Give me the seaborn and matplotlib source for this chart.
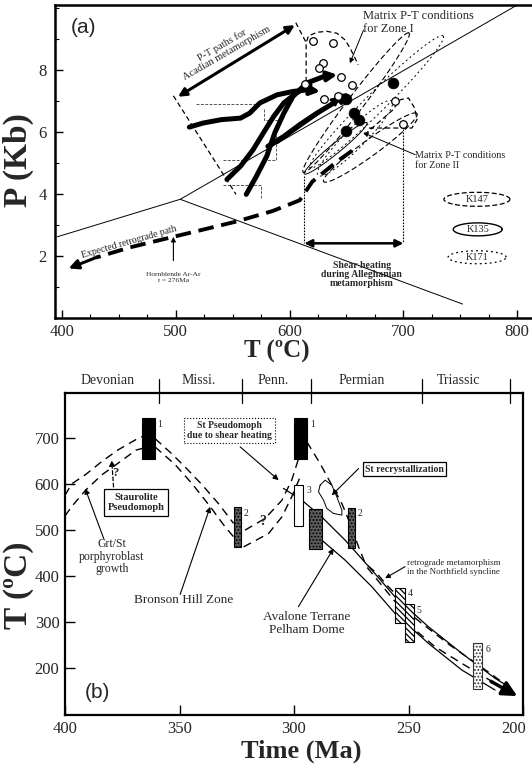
import numpy as np
import matplotlib
matplotlib.use("Agg")
import matplotlib.pyplot as plt
from matplotlib.ticker import MultipleLocator
from matplotlib.transforms import blended_transform_factory, ScaledTranslation
import seaborn as sns

# ======================= DATA : panel (a)  T (degC), P (kbar) =======================
bound_upper_T = [396, 504, 800]
bound_upper_P = [2.62, 3.83, 10.1]
bound_lower_T = [504, 752]
bound_lower_P = [3.83, 0.45]

pathA_T = [512, 524, 540, 557, 565, 574, 589, 603, 615]
pathA_P = [6.16, 6.29, 6.40, 6.45, 6.61, 6.94, 7.20, 7.31, 7.36]
pathA_tip = (627, 7.31)
pathB_T = [545, 557, 568, 577, 586, 595, 606, 618]
pathB_P = [4.47, 4.90, 5.43, 5.97, 6.50, 6.94, 7.26, 7.52]
pathC_T = [562, 571, 580, 587, 595, 603, 615, 630]
pathC_P = [3.99, 4.58, 5.22, 5.97, 6.61, 7.15, 7.58, 7.79]
pathC_tip = (642, 7.85)
pathD_T = [581, 595, 609, 624, 639]
pathD_P = [5.54, 5.86, 6.24, 6.61, 6.94]
pathD_tip = (653, 7.26)
pathE_T = [589, 610, 630]
pathE_P = [5.65, 6.20, 6.72]
pathE_tip = (645, 7.15)

retro_T = [655, 640, 620, 609, 585, 554, 525, 498, 460, 430]
retro_P = [5.40, 5.00, 4.40, 3.80, 3.45, 3.12, 2.86, 2.62, 2.28, 1.95]
retro_tip = (406, 1.60)

open_T = [621, 638, 629, 626, 614, 645, 630, 655, 693, 700, 643]
open_P = [8.95, 8.86, 8.24, 8.06, 7.56, 7.79, 7.06, 7.52, 6.99, 6.26, 7.15]
filled_T = [650, 657, 661, 650, 691]
filled_P = [7.07, 6.63, 6.38, 6.05, 7.58]

zone1_T = [614.6, 614.6, 616.6, 624, 632.8, 641.6, 648.9, 653.3, 656.2, 660.3]
zone1_P = [7.62, 8.87, 9.10, 9.22, 9.25, 9.19, 8.97, 8.70, 8.49, 8.17]
zone2_T = [666, 691, 697, 704.5, 710, 712, 707.5, 667]
zone2_P = [5.92, 6.72, 7.04, 7.10, 6.77, 6.40, 6.13, 6.13]

fan_left_T = [498, 553]
fan_left_P = [7.17, 3.99]
fan_right_T = [605.5, 615]
fan_right_P = [9.53, 8.86]
acadian_arrow_T = [502, 604.7]
acadian_arrow_P = [7.14, 9.45]

# elongated sample ellipses: (T1, P1, T2, P2)
ell_K147 = [(612, 4.70, 705, 9.20), (630, 4.40, 712, 6.60)]
ell_K135 = [(613, 4.65, 668, 6.30)]
ell_K171 = [(618, 4.85, 735, 9.10), (625, 4.60, 690, 7.00)]

stair_lines = [
    ([518, 574], [6.90, 6.90]),
    ([578, 578, 589, 589], [6.75, 6.40, 6.40, 6.10]),
    ([542, 560], [5.10, 5.10]),
    ([588, 588, 578], [5.90, 5.10, 5.10]),
    ([542, 575, 575], [4.30, 4.30, 3.85]),
]

shear_T = [613, 700]
shear_P = 2.41
shear_top_P = [4.57, 6.20]

# ======================= DATA : panel (b)  Time (Ma), T (degC) =======================
period_names = ["Devonian", "Missi.", "Penn.", "Permian", "Triassic"]
period_label_Ma = [381.4, 341.7, 309.0, 270.4, 228.2]
period_bounds_Ma = [359.0, 322.5, 292.5, 244.2, 205.6]

bar_labels = ["1", "2", "1", "3", "", "2", "4", "5", "6"]
bar_old = [366.2, 326.4, 300.0, 300.0, 293.4, 276.5, 255.9, 251.5, 222.0]
bar_young = [360.9, 323.1, 294.4, 295.9, 287.9, 273.3, 251.7, 247.7, 217.7]
bar_low = [653, 463, 653, 509, 458, 460, 298, 257, 154]
bar_high = [742, 549, 742, 598, 546, 548, 374, 338, 254]
bar_kind = ["black", "grey", "black", "white", "grey", "grey", "hatch", "hatch", "dots"]

loopU_Ma = [400, 397, 391, 384, 377, 369, 366]
loopU_T = [575, 600, 620, 648, 673, 696, 703]
loopL_Ma = [400, 397, 391, 384, 377, 369, 366]
loopL_T = [530, 551, 586, 619, 644, 673, 677]
down1U_Ma = [360.7, 354, 347.6, 340, 333, 326.4]
down1U_T = [698, 668, 636.7, 597, 557, 514]
down1L_Ma = [360.7, 352, 344.6, 337, 330.1, 326.4]
down1L_T = [680, 642, 600.6, 553, 506.5, 485]
up2U_Ma = [321.4, 312.6, 305.3, 301, 297.3]
up2U_T = [499.3, 524.8, 564, 607.8, 665.7]
up2L_Ma = [322, 311.1, 305.3, 301, 297.3]
up2L_T = [463, 492, 528, 571.6, 615]
d1_Ma = [294.4, 288.6, 283.5, 279.1, 275.5, 271.8, 268.9, 263.8, 259.5, 255.9, 247, 238.4, 226.7, 212.2, 204.9]
d1_T = [691, 644, 597, 557, 514, 463, 427, 405.4, 380, 362, 282.4, 246, 210, 166.8, 145]
d2_Ma = [268, 256, 245, 232, 219, 207]
d2_T = [418, 345, 300, 250, 205, 162]
s1_Ma = [304.6, 296.6, 287.9, 277.7, 266, 255.9, 241.3, 226.7, 212.2, 206.3]
s1_T = [589.8, 564.4, 528, 477.7, 412.5, 354.6, 289.6, 231.8, 177.7, 159.5]
s2_Ma = [287.9, 277.7, 266, 255.9, 241.3, 226.7, 212.2]
s2_T = [477.7, 434.3, 376.4, 318.6, 253.5, 195.6, 152.2]
final_tail = (214, 171)
final_tip = (202.5, 139)
recryst_Ma = [288.6, 286.4, 283.5, 281.3, 279.1, 279.1, 282.8, 285.7, 287.1, 289.3, 288.6]
recryst_T = [597, 607.8, 597, 571.6, 542.7, 532, 535.6, 546.4, 564.4, 582.4, 597]

# ======================= FIGURE =======================
sns.set_theme(style="ticks")
SERIF = ['Liberation Serif', 'DejaVu Serif']
SANS = ['Liberation Sans', 'DejaVu Sans']
plt.rcParams['font.family'] = SERIF
plt.rcParams['hatch.linewidth'] = 0.9

W, H, DPI = 532, 768, 100
fig = plt.figure(figsize=(W / DPI, H / DPI), dpi=DPI)
fig.patch.set_facecolor('white')

axA = fig.add_axes([55 / W, 1 - 318 / H, (W - 55) / W, (318 - 5) / H])
axB = fig.add_axes([65 / W, 1 - 715 / H, (523 - 65) / W, (715 - 393) / H])

axA.set_xlim(394, 813)
axA.set_ylim(0, 10.1)
axB.set_xlim(400, 200)
axB.set_ylim(98, 797)
for ax in (axA, axB):
    ax.set_facecolor('white')
    ax.set_autoscale_on(False)

K = 'black'


def line(ax, x, y, lw=0.8, ls='-', color=K, zorder=2):
    sns.lineplot(x=x, y=y, sort=False, estimator=None, ax=ax, color=color,
                 linewidth=lw, linestyle=ls, zorder=zorder, legend=False)


def arrow(ax, tail, head, lw=0.8, ms=8, ls='-', style='-|>', color=K, zorder=4):
    ax.annotate('', xy=head, xytext=tail,
                arrowprops=dict(arrowstyle=style, color=color, lw=lw, mutation_scale=ms,
                                linestyle=ls, shrinkA=0, shrinkB=0), zorder=zorder)


def ellipse(ax, p1, p2, width_px, n=160, **kw):
    d = ax.transData.transform(np.array([p1, p2], dtype=float))
    c = d.mean(axis=0)
    v = d[1] - d[0]
    half = np.hypot(*v) / 2
    u = v / (2 * half)
    nrm = np.array([-u[1], u[0]])
    t = np.linspace(0, 2 * np.pi, n)
    pts = c + np.outer(half * np.cos(t), u) + np.outer(width_px / 2 * np.sin(t), nrm)
    dd = ax.transData.inverted().transform(pts)
    ax.plot(dd[:, 0], dd[:, 1], color=K, **kw)


# ----------------------------- panel (a) -----------------------------
line(axA, bound_upper_T, bound_upper_P, lw=0.7)
line(axA, bound_lower_T, bound_lower_P, lw=0.7)

for xs, ys in stair_lines:
    line(axA, xs, ys, lw=0.7, color='#555555', ls=(0, (3, 1.5)))

line(axA, fan_left_T, fan_left_P, lw=0.9, ls=(0, (4, 2.5)))
line(axA, fan_right_T, fan_right_P, lw=0.9, ls=(0, (4, 2.5)))
line(axA, zone1_T, zone1_P, lw=0.9, ls=(0, (4, 2.5)))
line(axA, zone2_T, zone2_P, lw=0.9, ls=(0, (4, 2.5)))

for (t1, p1, t2, p2) in ell_K147:
    ellipse(axA, (t1, p1), (t2, p2), 16, lw=0.8, ls=(0, (5, 2.5)))
for (t1, p1, t2, p2) in ell_K135:
    ellipse(axA, (t1, p1), (t2, p2), 10, lw=0.7)
for (t1, p1, t2, p2) in ell_K171:
    ellipse(axA, (t1, p1), (t2, p2), 20, lw=0.7, ls=(0, (2, 3)))

# thick P-T paths
for xs, ys in [(pathA_T, pathA_P), (pathB_T, pathB_P), (pathC_T, pathC_P), (pathD_T, pathD_P)]:
    line(axA, xs, ys, lw=3.6, zorder=3)
line(axA, pathE_T, pathE_P, lw=2.0, zorder=3)
arrow(axA, (pathA_T[-1], pathA_P[-1]), pathA_tip, lw=3, ms=14)
arrow(axA, (pathC_T[-1], pathC_P[-1]), pathC_tip, lw=3, ms=14)
arrow(axA, (pathD_T[-1], pathD_P[-1]), pathD_tip, lw=3, ms=14)
arrow(axA, (pathE_T[-1], pathE_P[-1]), pathE_tip, lw=2, ms=12)

# retrograde path
line(axA, retro_T, retro_P, lw=2.8, ls=(0, (4, 2)), zorder=3)
arrow(axA, (retro_T[-1], retro_P[-1]), retro_tip, lw=2.2, ms=14)

# circles
sns.scatterplot(x=open_T, y=open_P, ax=axA, s=30, facecolor='white', edgecolor=K,
                linewidth=0.9, zorder=5, legend=False)
sns.scatterplot(x=filled_T, y=filled_P, ax=axA, s=60, color=K, edgecolor=K,
                linewidth=0.5, zorder=5, legend=False)

# Acadian double arrow
arrow(axA, (acadian_arrow_T[0], acadian_arrow_P[0]), (acadian_arrow_T[1], acadian_arrow_P[1]),
      lw=2.2, ms=12, style='<|-|>')
axA.text(543, 8.68, "P-T paths for\nAcadian metamorphism", rotation=30, ha='center', va='center',
         fontsize=7.5, rotation_mode='anchor', multialignment='center', linespacing=1.0)

# shear heating
line(axA, [shear_T[0], shear_T[0]], [shear_top_P[0], shear_P], lw=0.8, ls=(0, (1.5, 1.2)))
line(axA, [shear_T[1], shear_T[1]], [shear_top_P[1], shear_P], lw=0.8, ls=(0, (1.5, 1.2)))
arrow(axA, (shear_T[0], shear_P), (shear_T[1], shear_P), lw=1.8, ms=11, style='<|-|>')
axA.text(663.5, 1.40, "Shear heating\nduring Alleghanian\nmetamorphism", ha='center', va='center',
         fontsize=7, fontweight='bold', linespacing=1.05)

axA.text(664.7, 9.53, "Matrix P-T conditions\nfor Zone I", ha='left', va='center', fontsize=9,
         linespacing=1.05)
arrow(axA, (665, 9.29), (653, 8.22), lw=0.7, ms=7)
axA.text(710.4, 5.08, "Matrix P-T conditions\nfor Zone II", ha='left', va='center', fontsize=7.3,
         linespacing=1.1)
arrow(axA, (710.4, 5.27), (664.7, 5.98), lw=0.7, ms=7)

axA.text(459, 2.44, "Expected retrograde path", rotation=16, ha='center', va='center',
         fontsize=7, rotation_mode='anchor')
arrow(axA, (498, 1.85), (498, 2.62), lw=0.8, ms=7)
axA.text(498, 1.30, "Hornblende Ar-Ar\nt = 276Ma", ha='center', va='center', fontsize=5.3,
         linespacing=1.2)

# legend ellipses
ellipse(axA, (764.6 - 29, 3.83), (764.6 + 29, 3.83), 14, lw=0.9, ls=(0, (4, 2)))
ellipse(axA, (765.3 - 21.5, 2.86), (765.3 + 21.5, 2.86), 13, lw=1.0)
ellipse(axA, (764.8 - 25.5, 1.96), (764.8 + 25.5, 1.96), 13, lw=0.9, ls=(0, (1.5, 2.5)))
for t, p, s in [(764.6, 3.83, "K147"), (765.3, 2.86, "K135"), (764.8, 1.96, "K171")]:
    axA.text(t, p, s, ha='center', va='center', fontsize=7.5)

axA.text(418.6, 9.36, "(a)", ha='center', va='center', fontsize=15, family=SANS)

axA.set_xticks([400, 500, 600, 700, 800])
axA.set_yticks([2, 4, 6, 8])
axA.xaxis.set_minor_locator(MultipleLocator(25))
axA.yaxis.set_minor_locator(MultipleLocator(1))
axA.tick_params(which='major', direction='in', length=6, width=1.0, labelsize=12, pad=4, color=K)
axA.tick_params(which='minor', direction='in', length=3, width=0.8, color=K)
axA.tick_params(axis='y', pad=6)
for s in ['left', 'bottom', 'top']:
    axA.spines[s].set_linewidth(1.8)
    axA.spines[s].set_color(K)
axA.spines['right'].set_visible(False)
axA.set_xlabel('')
axA.set_ylabel('')

# ----------------------------- panel (b) -----------------------------
for xs, ys in [(loopU_Ma, loopU_T), (loopL_Ma, loopL_T), (down1U_Ma, down1U_T),
               (down1L_Ma, down1L_T), (up2U_Ma, up2U_T), (up2L_Ma, up2L_T),
               (d1_Ma, d1_T), (d2_Ma, d2_T)]:
    line(axB, xs, ys, lw=1.0, ls=(0, (6, 4)))
line(axB, s1_Ma, s1_T, lw=0.9)
line(axB, s2_Ma, s2_T, lw=0.9)
line(axB, recryst_Ma, recryst_T, lw=0.7)
arrow(axB, final_tail, final_tip, lw=2.5, ms=22)

styles = {
    "black": dict(color='black', edgecolor='black'),
    "grey": dict(color='#5e5e5e', edgecolor='black', hatch='.....'),
    "white": dict(color='white', edgecolor='black'),
    "hatch": dict(color='white', edgecolor='black', hatch='\\\\\\\\\\\\'),
    "dots": dict(color='white', edgecolor='#333333', hatch='.....'),
}
for lab, o, y, lo, hi, kind in zip(bar_labels, bar_old, bar_young, bar_low, bar_high, bar_kind):
    axB.bar((o + y) / 2, hi - lo, width=o - y, bottom=lo, linewidth=0.8, zorder=5, **styles[kind])
    if lab:
        axB.text(y - 1.3, hi - 13, lab, ha='left', va='center', fontsize=7, zorder=6)

# period strip
trans = blended_transform_factory(axB.transData, axB.transAxes)
for b in period_bounds_Ma:
    axB.plot([b, b], [0.969, 1.043], color=K, lw=0.9, transform=trans, clip_on=False)
for name, m in zip(period_names, period_label_Ma):
    axB.text(m, 1.040, name, ha='center', va='center', fontsize=10, transform=trans)

# boxes & annotations
axB.text(369, 559, "Staurolite\nPseudomoph", ha='center', va='center', fontsize=7.5,
         fontweight='bold', linespacing=1.15, zorder=7,
         bbox=dict(boxstyle='square,pad=0.35', fc='white', ec=K, lw=0.9))
axB.text(328.3, 716, "St Pseudomoph\ndue to shear heating", ha='center', va='center', fontsize=7,
         fontweight='bold', linespacing=1.2, zorder=7,
         bbox=dict(boxstyle='square,pad=0.3', fc='white', ec=K, lw=0.8, ls=':'))
axB.text(251.8, 631.2, "St recrystallization", ha='center', va='center', fontsize=7,
         fontweight='bold', zorder=7,
         bbox=dict(boxstyle='square,pad=0.25', fc='white', ec=K, lw=0.9))

axB.text(379.5, 441.5, "Grt/St\nporphyroblast\ngrowth", ha='center', va='center', fontsize=8.5,
         linespacing=1.05)
arrow(axB, (383.1, 481), (391.2, 589.8), lw=0.8, ms=8)
arrow(axB, (378.8, 593), (379.6, 651), lw=0.9, ms=8, ls=(0, (3, 2)))
axB.text(378.1, 624, "?", ha='center', va='center', fontsize=9, fontweight='bold')
axB.text(313.5, 518, "?", ha='center', va='center', fontsize=10, fontweight='bold')

axB.text(348.2, 347.5, "Bronson Hill Zone", ha='center', va='center', fontsize=9.5)
arrow(axB, (349.7, 360), (336.6, 550), lw=0.8, ms=8)
arrow(axB, (323.5, 680), (306.7, 607.8), lw=0.8, ms=8)
arrow(axB, (271.8, 633), (283.5, 575), lw=0.8, ms=8)
axB.text(294.4, 296, "Avalone Terrane\nPelham Dome", ha='center', va='center', fontsize=9.5,
         linespacing=1.1)
arrow(axB, (298.1, 333), (282.7, 459.7), lw=0.8, ms=8)
axB.text(250.7, 418, "retrograde metamorphism\nin the Northfield syncline", ha='left', va='center',
         fontsize=6.5, linespacing=1.15)
arrow(axB, (251.5, 420), (260.2, 395), lw=0.8, ms=7)

axB.text(385.7, 146, "(b)", ha='center', va='center', fontsize=15, family=SANS)

axB.set_xticks([400, 350, 300, 250, 200])
axB.set_yticks([200, 300, 400, 500, 600, 700])
axB.tick_params(which='major', direction='in', length=7, width=1.0, labelsize=12, pad=4, color=K)
for s in axB.spines.values():
    s.set_linewidth(1.6)
    s.set_color(K)
axB.set_xlabel('')
axB.set_ylabel('')
# keep the last time label inside the picture, as in the reference
last = axB.get_xticklabels()[-1]
last.set_transform(last.get_transform() + ScaledTranslation(-9 / DPI, 0, fig.dpi_scale_trans))

# axis titles
fig.text(277 / W, 1 - 351 / H, "T (ºC)", ha='center', va='center', fontsize=18, fontweight='bold')
fig.text(18 / W, 1 - 160 / H, "P (Kb)", ha='center', va='center', fontsize=24, fontweight='bold',
         rotation=90)
fig.text(301 / W, 1 - 751 / H, "Time (Ma)", ha='center', va='center', fontsize=19, fontweight='bold')
fig.text(19 / W, 1 - 585 / H, "T (ºC)", ha='center', va='center', fontsize=24, fontweight='bold',
         rotation=90)

fig.savefig("out.png", dpi=DPI, facecolor='white')
